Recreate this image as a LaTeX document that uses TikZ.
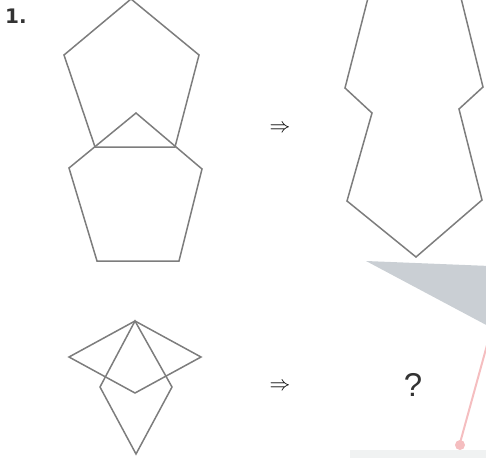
\documentclass[tikz,border=0pt]{standalone}
\usepackage{fontspec}
\setmainfont{Liberation Sans}
\newfontfamily\heavyfont{DejaVu Sans}
\usepackage{amssymb}
\usetikzlibrary{positioning}
\definecolor{edge}{RGB}{125,125,125}
\definecolor{wedge}{RGB}{202,207,212}
\definecolor{blush}{RGB}{245,190,192}
\definecolor{haze}{RGB}{240,242,242}
\tikzset{
  outline/.style={draw=edge,line width=1.5pt,line join=miter},
  implies/.style={font=\fontsize{20}{24}\selectfont,inner sep=0pt},
  qmark/.style={font=\fontsize{33}{36}\selectfont,text=black!80,inner sep=0pt},
  number/.style={font=\heavyfont\fontsize{20}{22}\selectfont\bfseries,text=black!80,inner sep=0pt},
}
\begin{document}
\begin{tikzpicture}[x=1pt,y=-1pt]
  \useasboundingbox (0,0) rectangle (486,458);
  \clip (0,0) rectangle (486,458);
  % task number
  \node[number,anchor=base west] (num) at (5,23) {1.};
  % two pentagons
  \draw[outline] (131,-1) -- (199,55) -- (175,147) -- (95,147) -- (64,55) -- cycle;
  \draw[outline] (136,113) -- (202,169) -- (179,261) -- (97,261) -- (69,168) -- cycle;
  \node[implies] (imp1) at (280,129) {$\Rightarrow$};
  % joined outline
  \draw[outline] (369,-6) -- (345,88) -- (372,113) -- (347,201) -- (416,257)
    -- (482,200) -- (459,109) -- (483,87) -- (460,-6);
  % two rhombi
  \draw[outline] (135,321) -- (201,357) -- (135,393) -- (69,357) -- cycle;
  \draw[outline] (135,321) -- (172,387) -- (136,454) -- (100,387) -- cycle;
  \node[implies] (imp2) at (280,387) {$\Rightarrow$};
  \node[qmark] (ask) at (413,385) {?};
  % scan marks
  \fill[wedge] (366,261) -- (490,266) -- (490,327) -- cycle;
  \draw[blush,line width=2pt] (492,327) -- (460,443);
  \fill[blush] (460,445) circle (5);
  \fill[haze] (350,450) rectangle (486,458);
\end{tikzpicture}
\end{document}
